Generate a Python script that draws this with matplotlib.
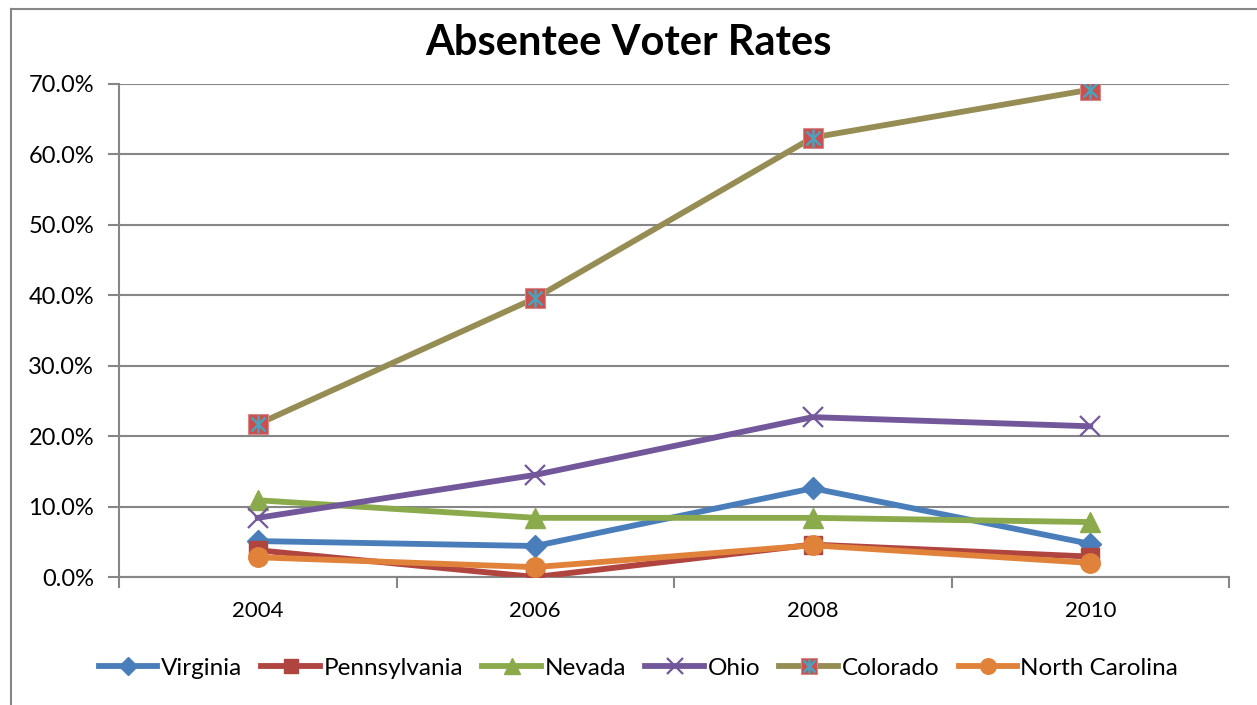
import matplotlib.pyplot as plt
from matplotlib.lines import Line2D
from matplotlib.legend_handler import HandlerTuple
import numpy as np

plt.rcParams['font.family'] = ['Lato', 'DejaVu Sans']

years = ['2004', '2006', '2008', '2010']
virginia = [5.1, 4.4, 12.6, 4.7]
pennsylvania = [3.8, 0.0, 4.6, 2.9]
nevada = [10.9, 8.4, 8.4, 7.8]
ohio = [8.4, 14.5, 22.7, 21.4]
colorado = [21.7, 39.6, 62.4, 69.2]
north_carolina = [2.8, 1.4, 4.5, 2.0]

fig = plt.figure(figsize=(12.57, 7.05), dpi=100)
ax = fig.add_axes([119 / 1257, 1 - 577 / 705, (1229 - 119) / 1257, (577 - 84) / 705])

# chart border (top and left edges visible)
fig.add_artist(Line2D([11 / 1257, 11 / 1257], [0, 1 - 9 / 705], transform=fig.transFigure,
                      color='#868686', lw=1.5))
fig.add_artist(Line2D([11 / 1257, 1], [1 - 9 / 705, 1 - 9 / 705], transform=fig.transFigure,
                      color='#868686', lw=1.5))

x = np.arange(len(years))
lw = 4.2
h_va, = ax.plot(x, virginia, color='#4A7EBB', lw=lw, marker='D', ms=11, zorder=3)
h_pa, = ax.plot(x, pennsylvania, color='#B0443F', lw=lw, marker='s', ms=13, zorder=3)
h_nv, = ax.plot(x, nevada, color='#8AAA4C', lw=lw, marker='^', ms=14, zorder=3)
h_oh, = ax.plot(x, ohio, color='#72589A', lw=lw, marker='x', ms=14, mew=1.6, zorder=3)
h_co, = ax.plot(x, colorado, color='#968D55', lw=lw, marker='s', ms=14,
                mfc='#C9504D', mec='#D88A88', mew=0.8, zorder=3)
h_cox, = ax.plot(x, colorado, ls='none', marker='x', ms=10, mew=1.8, color='#4AA3BE', zorder=4)
h_cov, = ax.plot(x, colorado, ls='none', marker='|', ms=13, mew=1.8, color='#4AA3BE', zorder=4)
h_nc, = ax.plot(x, north_carolina, color='#E0823A', lw=lw, marker='o', ms=14, zorder=3)

ax.set_xlim(-0.5, 3.5)
ax.set_ylim(0, 70)
ax.set_yticks(np.arange(0, 71, 10))
ax.set_yticklabels([f'{v:.1f}%' for v in range(0, 71, 10)])
ax.set_xticks(x)
ax.set_xticklabels(years)
ax.set_xticks(np.arange(-0.5, 3.6, 1), minor=True)
ax.tick_params(axis='x', which='major', length=0, pad=17, labelsize=16)
ax.tick_params(axis='x', which='minor', length=8, width=1.5, color='#868686', direction='out')
ax.tick_params(axis='y', length=8, width=1.5, color='#868686', direction='out',
               pad=10, labelsize=17)
ax.grid(axis='y', color='#868686', lw=1.5)
ax.set_axisbelow(True)
for side in ['top', 'right']:
    ax.spines[side].set_visible(False)
for side in ['left', 'bottom']:
    ax.spines[side].set_color('#868686')
    ax.spines[side].set_linewidth(1.5)

fig.text(0.5, 1 - 43 / 705, 'Absentee Voter Rates', ha='center', va='center',
         fontsize=30, fontweight='bold')

handles = [h_va, h_pa, h_nv, h_oh, (h_co, h_cox, h_cov), h_nc]
labels = ['Virginia', 'Pennsylvania', 'Nevada', 'Ohio', 'Colorado', 'North Carolina']
fig.legend(handles, labels, loc='center', bbox_to_anchor=(0.508, 1 - 668 / 705),
           ncol=6, frameon=False, fontsize=17.5, handlelength=2.4, handletextpad=0.15,
           columnspacing=0.8, markerscale=0.8,
           handler_map={tuple: HandlerTuple(ndivide=1)})

fig.savefig('out.png', dpi=100)
